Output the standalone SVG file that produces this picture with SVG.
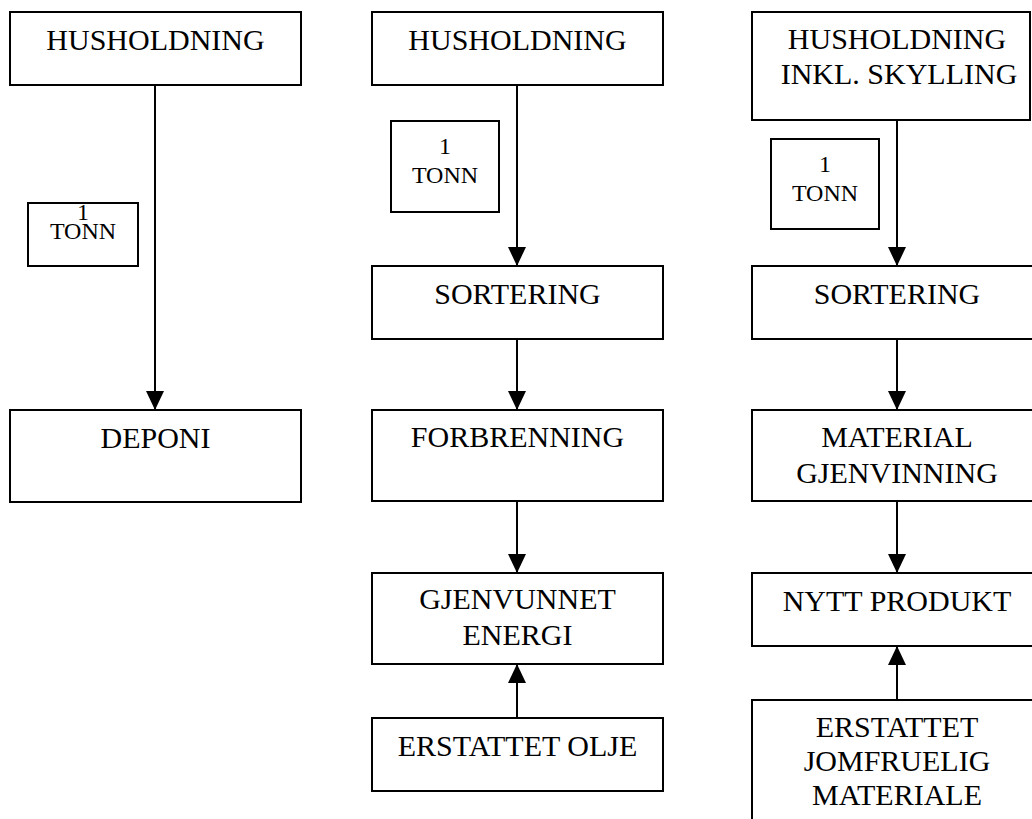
<svg xmlns="http://www.w3.org/2000/svg" width="1032" height="819" viewBox="0 0 1032 819">
<style>
.box{fill:#fff;stroke:#000;stroke-width:2}
.t{font-family:"Liberation Serif","Times New Roman",serif;font-size:30px;fill:#000;text-anchor:middle}
.s{font-family:"Liberation Serif","Times New Roman",serif;font-size:24px;fill:#000;text-anchor:middle}
.c{stroke:#000;stroke-width:2;fill:none}
</style>
<defs>
<marker id="ah" markerUnits="userSpaceOnUse" markerWidth="20" markerHeight="20" viewBox="0 0 20 20" refX="19" refY="10" orient="auto">
<path d="M0,1 L19,10 L0,19 Z" fill="#000"/>
</marker>
</defs>
<rect width="1032" height="819" fill="#fff"/>
<g id="connectors">
<line class="c" x1="155" y1="85" x2="155" y2="410" marker-end="url(#ah)"/>
<line class="c" x1="517" y1="85" x2="517" y2="266" marker-end="url(#ah)"/>
<line class="c" x1="517" y1="339" x2="517" y2="410" marker-end="url(#ah)"/>
<line class="c" x1="517" y1="501" x2="517" y2="573" marker-end="url(#ah)"/>
<line class="c" x1="517" y1="718" x2="517" y2="664" marker-end="url(#ah)"/>
<line class="c" x1="897" y1="120" x2="897" y2="266" marker-end="url(#ah)"/>
<line class="c" x1="897" y1="339" x2="897" y2="410" marker-end="url(#ah)"/>
<line class="c" x1="897" y1="501" x2="897" y2="573" marker-end="url(#ah)"/>
<line class="c" x1="897" y1="700" x2="897" y2="646" marker-end="url(#ah)"/>
</g>
<g id="n_hus1"><rect class="box" x="10" y="12" width="291" height="73"/><text class="t" x="155.5" y="50">HUSHOLDNING</text></g>
<g id="n_tonn1"><rect class="box" x="28" y="203" width="110" height="63"/><text class="s" x="83" y="220">1</text><text class="s" x="83" y="239">TONN</text></g>
<g id="n_deponi"><rect class="box" x="10" y="410" width="291" height="92"/><text class="t" x="155.5" y="448">DEPONI</text></g>

<g id="n_hus2"><rect class="box" x="372" y="12" width="291" height="73"/><text class="t" x="517.5" y="50">HUSHOLDNING</text></g>
<g id="n_tonn2"><rect class="box" x="391" y="121" width="108" height="91"/><text class="s" x="445" y="154">1</text><text class="s" x="445" y="183">TONN</text></g>
<g id="n_sort2"><rect class="box" x="372" y="266" width="291" height="73"/><text class="t" x="517.5" y="304">SORTERING</text></g>
<g id="n_forb"><rect class="box" x="372" y="410" width="291" height="91"/><text class="t" x="517.5" y="447">FORBRENNING</text></g>
<g id="n_gjen"><rect class="box" x="372" y="573" width="291" height="91"/><text class="t" x="517.5" y="609">GJENVUNNET</text><text class="t" x="517.5" y="645">ENERGI</text></g>
<g id="n_olje"><rect class="box" x="372" y="718" width="291" height="73"/><text class="t" x="517.5" y="756">ERSTATTET OLJE</text></g>

<g id="n_hus3"><rect class="box" x="752" y="12" width="278" height="108"/><text class="t" x="897" y="49">HUSHOLDNING</text><text class="t" x="899" y="84">INKL. SKYLLING</text></g>
<g id="n_tonn3"><rect class="box" x="771" y="139" width="108" height="90"/><text class="s" x="825" y="172">1</text><text class="s" x="825" y="201">TONN</text></g>
<g id="n_sort3"><rect class="box" x="752" y="266" width="290" height="73"/><text class="t" x="897" y="304">SORTERING</text></g>
<g id="n_mat"><rect class="box" x="752" y="410" width="290" height="91"/><text class="t" x="897" y="447">MATERIAL</text><text class="t" x="897" y="483">GJENVINNING</text></g>
<g id="n_nytt"><rect class="box" x="752" y="573" width="290" height="73"/><text class="t" x="897" y="611">NYTT PRODUKT</text></g>
<g id="n_jomf"><rect class="box" x="752" y="700" width="290" height="130"/><text class="t" x="897" y="737">ERSTATTET</text><text class="t" x="897" y="771">JOMFRUELIG</text><text class="t" x="897" y="805">MATERIALE</text></g>
</svg>
